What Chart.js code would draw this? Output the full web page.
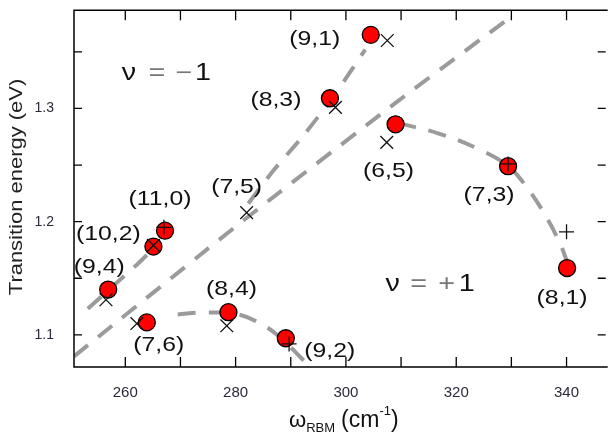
<!DOCTYPE html>
<html>
<head>
<meta charset="utf-8">
<script src="https://cdn.jsdelivr.net/npm/chart.js@4"></script>
<style>
  html, body { margin: 0; padding: 0; background: #fff; overflow: hidden; }
  #wrap { width: 616px; height: 434px; }
</style>
</head>
<body>
<div id="wrap"><canvas id="kataura" width="616" height="434"></canvas></div>
<script>
// tube chiralities, measured (red dots) and calculated (x / +) points
const tubes      = ['(9,1)', '(8,3)', '(6,5)', '(7,3)', '(8,1)', '(11,0)', '(10,2)', '(9,4)', '(7,6)', '(8,4)', '(9,2)', '(7,5)'];
const expRBM     = [304.5, 297.1, 309.0, 329.4, 340.1, 267.2, 265.1, 256.9, 263.9, 278.7, 289.1, null];
const expEnergy  = [1.365, 1.309, 1.286, 1.249, 1.159, 1.192, 1.178, 1.140, 1.111, 1.120, 1.097, null];
const calcRBM    = [307.5, 298.1, 307.4, 329.4, 340.0, 267.0, 265.1, 256.5, 262.1, 278.4, 289.7, 282.0];
const calcEnergy = [1.360, 1.301, 1.270, 1.251, 1.191, 1.195, 1.179, 1.131, 1.110, 1.108, 1.092, 1.208];
const calcMarker = ['x', 'x', 'x', '+', '+', '+', 'x', 'x', 'x', 'x', '+', 'x'];

// dashed guide lines
const fam19RBM = [282.3, 287.0, 292.1, 297.5, 303.5];
const fam19E   = [1.216, 1.246, 1.275, 1.309, 1.352];
const fam22RBM = [253.2, 262.1, 265.5];
const fam22E   = [1.123, 1.162, 1.178];
const fam20RBM = [269.5, 274.0, 280.5, 285.2, 288.5, 291.2, 294.0];
const fam20E   = [1.118, 1.1197, 1.118, 1.108, 1.096, 1.083, 1.069];
const fam17RBM = [309.5, 316.7, 324.1, 329.4, 333.0, 336.1, 338.8, 340.0];
const fam17E   = [1.287, 1.278, 1.264, 1.249, 1.229, 1.206, 1.181, 1.166];
const splitRBM = [250.7, 281.4, 309.3, 330.5];
const splitE   = [1.081, 1.201, 1.306, 1.383];

const xTicksLabelled = [260, 280, 300, 320, 340];
const yTicksLabelled = ['1.1', '1.2', '1.3'];

// label placement (pixels from the point)
const labelDx = [-56, -54, -7, -19, -5, -5, -45, -9, 12, 3, 44, -10];
const labelDy = [4, 2, 47, 29, 30, -32, -12, -22, 23, -23, 13, -25];

const FONT = '"Liberation Sans", Arial, Helvetica, sans-serif';

function pts(xs, ys) {
  const out = [];
  xs.forEach((v, i) => { if (v !== null) out.push({ x: v, y: ys[i] }); });
  return out;
}

function guide(xs, ys, tension) {
  return {
    data: pts(xs, ys),
    showLine: true,
    borderColor: '#9b9b9b',
    borderWidth: 4,
    borderDash: [18, 13],
    pointRadius: 0,
    tension: tension,
    order: 2
  };
}

function txt(ctx, s, x, y, size, sx, color) {
  ctx.save();
  ctx.translate(x, y);
  ctx.scale(sx, 1);
  ctx.font = size + 'px ' + FONT;
  ctx.fillStyle = color || '#111';
  ctx.textAlign = 'center';
  ctx.textBaseline = 'middle';
  ctx.fillText(s, 0, 0);
  ctx.restore();
}

const decorations = {
  id: 'decorations',
  afterDatasetsDraw(chart) {
    const { ctx, chartArea: a, scales: { x, y } } = chart;
    ctx.save();
    // frame (right edge is cut off in the original)
    ctx.strokeStyle = '#000';
    ctx.lineWidth = 1.5;
    ctx.beginPath();
    ctx.moveTo(a.right + 2, a.top);
    ctx.lineTo(a.left, a.top);
    ctx.lineTo(a.left, a.bottom);
    ctx.lineTo(a.right + 2, a.bottom);
    ctx.stroke();
    // inward ticks
    ctx.lineWidth = 1.3;
    ctx.beginPath();
    x.ticks.forEach(t => {
      const px = x.getPixelForValue(t.value);
      ctx.moveTo(px, a.bottom); ctx.lineTo(px, a.bottom - 10);
      ctx.moveTo(px, a.top); ctx.lineTo(px, a.top + 10);
    });
    y.ticks.forEach(t => {
      const py = y.getPixelForValue(t.value);
      ctx.moveTo(a.left, py); ctx.lineTo(a.left + 8, py);
      ctx.moveTo(a.right, py); ctx.lineTo(a.right - 8, py);
    });
    ctx.stroke();

    // chirality labels
    tubes.forEach((name, i) => {
      const wx = expRBM[i] !== null ? expRBM[i] : calcRBM[i];
      const wy = expEnergy[i] !== null ? expEnergy[i] : calcEnergy[i];
      txt(ctx, name, x.getPixelForValue(wx) + labelDx[i], y.getPixelForValue(wy) + labelDy[i], 21, 1.18);
    });

    // nu = -1 / nu = +1
    const n1x = x.getPixelForValue(267.2), n1y = y.getPixelForValue(1.331);
    txt(ctx, 'ν', n1x - 36, n1y, 23, 1.25);
    txt(ctx, '=', n1x - 8, n1y, 23, 1.25, '#777');
    txt(ctx, '−', n1x + 19, n1y, 23, 1.25, '#777');
    txt(ctx, '1', n1x + 38, n1y, 23, 1.25);
    const n2x = x.getPixelForValue(315.2), n2y = y.getPixelForValue(1.1444);
    txt(ctx, 'ν', n2x - 37, n2y, 23, 1.25);
    txt(ctx, '=', n2x - 11, n2y, 23, 1.25, '#777');
    txt(ctx, '+', n2x + 17, n2y, 23, 1.25, '#777');
    txt(ctx, '1', n2x + 37, n2y, 23, 1.25);

    // y title
    ctx.save();
    ctx.translate(17, 187);
    ctx.rotate(-Math.PI / 2);
    ctx.scale(1.22, 1);
    ctx.font = '18px ' + FONT;
    ctx.fillStyle = '#222';
    ctx.textAlign = 'center';
    ctx.textBaseline = 'middle';
    ctx.fillText('Transition energy (eV)', 0, 0);
    ctx.restore();

    // x title: omega_RBM (cm^-1)
    ctx.fillStyle = '#111';
    ctx.textBaseline = 'alphabetic';
    ctx.textAlign = 'left';
    let cx = 289;
    const base = 427;
    ctx.font = '22px ' + FONT;
    ctx.fillText('ω', cx, base); cx += ctx.measureText('ω').width;
    ctx.font = '13px ' + FONT;
    ctx.fillText('RBM', cx, base + 5); cx += ctx.measureText('RBM').width + 6;
    ctx.font = '23px ' + FONT;
    ctx.fillText('(cm', cx, base); cx += ctx.measureText('(cm').width;
    ctx.font = '13px ' + FONT;
    ctx.fillText('-1', cx, base - 12); cx += ctx.measureText('-1').width;
    ctx.font = '23px ' + FONT;
    ctx.fillText(')', cx, base);
    ctx.restore();
  }
};

new Chart(document.getElementById('kataura'), {
  type: 'scatter',
  data: {
    datasets: [
      {
        data: pts(calcRBM, calcEnergy),
        pointStyle: calcMarker.map(m => m === '+' ? 'cross' : 'crossRot'),
        pointRadius: calcMarker.map(m => m === '+' ? 7.5 : 9),
        borderColor: '#111',
        borderWidth: 1.3,
        order: 0
      },
      {
        data: pts(expRBM, expEnergy),
        pointStyle: 'circle',
        pointRadius: 8.5,
        backgroundColor: '#ff0000',
        borderColor: '#000',
        borderWidth: 1.3,
        order: 1
      },
      guide(fam19RBM, fam19E, 0.3),
      guide(fam22RBM, fam22E, 0),
      guide(fam20RBM, fam20E, 0.4),
      guide(fam17RBM, fam17E, 0.4),
      guide(splitRBM, splitE, 0.2)
    ]
  },
  options: {
    responsive: false,
    animation: false,
    layout: { padding: { top: 7, right: 0, left: 0, bottom: 0 } },
    plugins: { legend: { display: false }, tooltip: { enabled: false } },
    scales: {
      x: {
        type: 'linear',
        min: 250.7,
        max: 347.1,
        afterFit(s) { s.height = 67; s.paddingLeft = 0; s.paddingRight = 0; },
        grid: { display: false },
        border: { display: false },
        ticks: {
          stepSize: 10,
          includeBounds: false,
          autoSkip: false,
          maxRotation: 0,
          padding: 9,
          color: '#2a2a3a',
          font: { family: FONT, size: 15 },
          callback: v => xTicksLabelled.includes(v) ? String(v) : ''
        }
      },
      y: {
        type: 'linear',
        min: 1.0716,
        max: 1.3867,
        afterFit(s) { s.width = 74; s.paddingTop = 0; s.paddingBottom = 0; },
        grid: { display: false },
        border: { display: false },
        ticks: {
          stepSize: 0.05,
          includeBounds: false,
          autoSkip: false,
          padding: 12,
          color: '#2a2a3a',
          font: { family: FONT, size: 14, lineHeight: 1 },
          callback: v => {
            const s = v.toFixed(2);
            return yTicksLabelled.includes(v.toFixed(1)) && s.endsWith('0') ? v.toFixed(1) : '';
          }
        }
      }
    }
  },
  plugins: [decorations]
});
</script>
</body>
</html>
